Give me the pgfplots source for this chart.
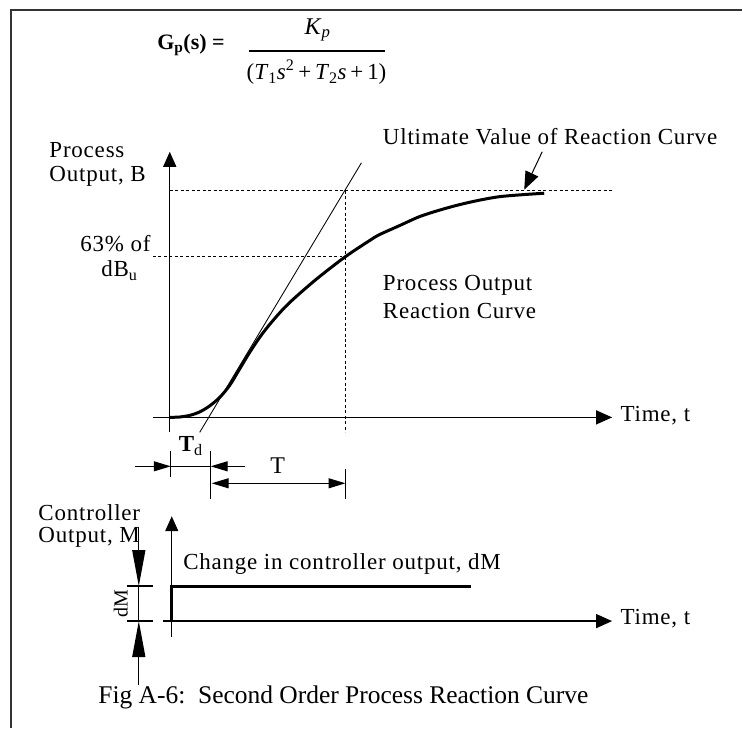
\documentclass[border=0pt]{standalone}
\usepackage{pgfplots}
\pgfplotsset{compat=1.18}
\usetikzlibrary{arrows.meta}
\usepackage{fontspec}
\setmainfont{Liberation Serif}
\newfontfamily\spaced[LetterSpace=3.5]{Liberation Serif}
\newcommand\lbl{\spaced\fontsize{23}{26}\selectfont}
\begin{document}
\begin{tikzpicture}
\begin{axis}[
  scale only axis, width=743pt, height=729pt,
  xmin=0, xmax=743, ymin=0, ymax=729, y dir=reverse,
  hide axis, clip=false,
]
\path (axis cs:0,0) rectangle (axis cs:743,729);
% frame
\draw[black!80, line width=2.2pt] (axis cs:11,729) -- (axis cs:11,10) -- (axis cs:743,10);
% formula
\node[anchor=west, font=\fontsize{22}{24}\selectfont\bfseries] at (axis cs:154,45) {G\textsubscript{p}(s) =};
\node[font=\fontsize{24}{26}\selectfont] at (axis cs:318,30) {\textit{K}\textsubscript{\textit{p}}};
\addplot[black, line width=2.6pt] coordinates {(249,51) (386,51)};
\node[font=\fontsize{23}{26}\selectfont] at (axis cs:317,72) {(\textit{T}\textsubscript{1}\textit{s}\textsuperscript{2}\,+\,\textit{T}\textsubscript{2}\textit{s}\,+\,1)};
% ---- top plot axes
\addplot[black, line width=1.4pt, -{Triangle[length=15pt,width=13pt]}] coordinates {(170,433) (170,152)};
\addplot[black, line width=1.4pt, -{Triangle[length=16pt,width=14pt]}] coordinates {(153,418) (613,418)};
% dotted guides
\addplot[black, line width=1pt, dash pattern=on 3pt off 2.5pt] coordinates {(170,191) (613,191)};
\addplot[black, line width=1pt, dash pattern=on 3pt off 2.5pt] coordinates {(153,257) (346,257)};
\addplot[black, line width=1pt, dash pattern=on 3pt off 2.5pt] coordinates {(346,191) (346,433)};
% tangent
\addplot[black, line width=0.9pt] coordinates {(362,163) (200,433)};
% reaction curve
\addplot[black, line width=3pt, smooth] coordinates {
(170,418) (180,417.6) (190,416) (200,412.5) (210,406.5) (220,398) (230,386)
(240,369.5) (250,353) (260,338) (270,325) (285,308) (300,294) (320,277)
(346,257) (370,241) (380,235) (400,226) (420,217) (440,210.5) (460,205)
(480,200.5) (500,197) (523,195) (545,193.5)};
% ultimate arrow
\addplot[black, line width=1pt, -{Triangle[length=18pt,width=14pt]}] coordinates {(543,152) (525,190)};
% labels
\node[anchor=west, font=\lbl] at (axis cs:46,150) {Process};
\node[anchor=west, font=\lbl] at (axis cs:46,177) {Output, B};
\node[anchor=west, font=\lbl] at (axis cs:77,244) {63\% of};
\node[anchor=west, font=\lbl] at (axis cs:98,271) {dB\textsubscript{u}};
\node[anchor=west, font=\lbl] at (axis cs:380,137) {Ultimate Value of Reaction Curve};
\node[anchor=west, font=\lbl] at (axis cs:380,286) {Process Output};
\node[anchor=west, font=\lbl] at (axis cs:380,311) {Reaction Curve};
\node[anchor=west, font=\lbl] at (axis cs:618,416) {Time, t};
% Td and T dimensions
\node[font=\fontsize{23}{26}\selectfont] at (axis cs:191,447) {\textbf{T}\textsubscript{d}};
\node[font=\fontsize{24}{26}\selectfont] at (axis cs:278,466) {T};
\addplot[black, line width=1.3pt] coordinates {(171,452) (171,478)};
\addplot[black, line width=1.3pt] coordinates {(211,452) (211,500)};
\addplot[black, line width=1.3pt] coordinates {(346,470) (346,500)};
\addplot[black, line width=1.1pt, -{Triangle[length=17pt,width=10pt]}] coordinates {(135,467) (171,467)};
\addplot[black, line width=1.1pt] coordinates {(171,467) (211,467)};
\addplot[black, line width=1.1pt, -{Triangle[length=17pt,width=10pt]}] coordinates {(245,467) (211,467)};
\addplot[black, line width=1.1pt, {Triangle[length=17pt,width=10pt]}-{Triangle[length=17pt,width=10pt]}] coordinates {(212,484) (346,484)};
% ---- bottom plot
\addplot[black, line width=1.4pt, -{Triangle[length=15pt,width=13pt]}] coordinates {(172,638) (172,517)};
\addplot[black, line width=1.4pt, -{Triangle[length=16pt,width=14pt]}] coordinates {(163,622) (613,622)};
\addplot[black, line width=3.5pt] coordinates {(172,622) (172,587)};
\addplot[black, line width=3pt] coordinates {(170.5,587) (472,587)};
\node[anchor=west, font=\lbl] at (axis cs:35,513) {Controller};
\node[anchor=west, font=\lbl] at (axis cs:35,538) {Output, M};
\node[anchor=west, font=\lbl] at (axis cs:180,565) {Change in controller output, dM};
\node[anchor=west, font=\lbl] at (axis cs:618,620) {Time, t};
% dM dimension
\addplot[black, line width=1.3pt] coordinates {(127,587) (153,587)};
\addplot[black, line width=1.3pt] coordinates {(127,622) (153,622)};
\addplot[black, line width=1.3pt] coordinates {(139,587) (139,622)};
\addplot[black, line width=1.3pt, -{Triangle[length=36pt,width=13pt]}] coordinates {(139,528) (139,587)};
\addplot[black, line width=1.3pt, -{Triangle[length=36pt,width=13pt]}] coordinates {(139,686) (139,622)};
\node[rotate=90, font=\fontsize{20}{22}\selectfont] at (axis cs:121,605) {dM};
% caption
\node[anchor=west, font=\fontsize{25.5}{28}\selectfont] at (axis cs:95,698) {Fig A-6:\ \ Second Order Process Reaction Curve};
\end{axis}
\end{tikzpicture}
\end{document}
